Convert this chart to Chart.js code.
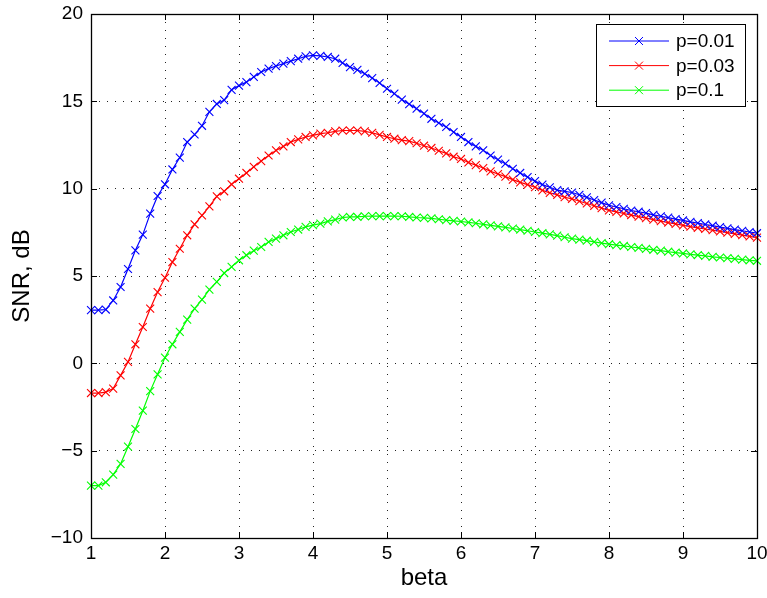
<!DOCTYPE html>
<html>
<head>
<meta charset="utf-8">
<script src="https://cdn.jsdelivr.net/npm/chart.js@4"></script>
<style>
html,body{margin:0;padding:0;background:#fff;}
#wrap{position:relative;width:767px;height:598px;}
</style>
</head>
<body>
<div id="wrap"><canvas id="c" width="767" height="598"></canvas></div>
<script>
// ---- data ----
const betaValues = [1.0,1.1,1.2,1.3,1.4,1.5,1.6,1.7,1.8,1.9,2.0,2.1,2.2,2.3,2.4,2.5,2.6,2.7,2.8,2.9,3.0,3.1,3.2,3.3,3.4,3.5,3.6,3.7,3.8,3.9,4.0,4.1,4.2,4.3,4.4,4.5,4.6,4.7,4.8,4.9,5.0,5.1,5.2,5.3,5.4,5.5,5.6,5.7,5.8,5.9,6.0,6.1,6.2,6.3,6.4,6.5,6.6,6.7,6.8,6.9,7.0,7.1,7.2,7.3,7.4,7.5,7.6,7.7,7.8,7.9,8.0,8.1,8.2,8.3,8.4,8.5,8.6,8.7,8.8,8.9,9.0,9.1,9.2,9.3,9.4,9.5,9.6,9.7,9.8,9.9,10.0];

const snrP001 = [3.05,3.05,3.08,3.6,4.37,5.4,6.47,7.37,8.57,9.58,10.25,11.1,11.78,12.67,13.1,13.6,14.4,14.85,15.07,15.66,15.9,16.1,16.4,16.68,16.87,17.02,17.16,17.3,17.44,17.57,17.63,17.6,17.54,17.44,17.2,16.96,16.8,16.58,16.33,16.05,15.72,15.44,15.1,14.84,14.58,14.3,14.0,13.76,13.53,13.24,12.96,12.67,12.42,12.2,11.9,11.66,11.43,11.14,10.9,10.66,10.43,10.23,10.08,9.92,9.85,9.78,9.65,9.5,9.35,9.2,9.05,8.95,8.85,8.75,8.68,8.6,8.5,8.42,8.34,8.26,8.18,8.1,8.03,7.95,7.88,7.8,7.73,7.66,7.59,7.52,7.45];

const snrP003 = [-1.7,-1.7,-1.65,-1.45,-0.69,0.08,1.09,2.08,3.13,4.08,4.9,5.8,6.56,7.33,7.96,8.47,8.99,9.56,9.85,10.25,10.57,10.9,11.25,11.58,11.9,12.19,12.42,12.67,12.82,12.96,13.05,13.15,13.2,13.28,13.33,13.33,13.33,13.28,13.2,13.08,12.96,12.86,12.78,12.72,12.6,12.46,12.33,12.17,12.02,11.83,11.7,11.5,11.35,11.18,10.99,10.84,10.69,10.52,10.36,10.23,10.08,9.9,9.76,9.65,9.51,9.42,9.28,9.15,9.02,8.89,8.76,8.67,8.58,8.49,8.4,8.31,8.23,8.14,8.06,7.98,7.9,7.83,7.76,7.69,7.62,7.55,7.48,7.41,7.34,7.27,7.2];

const snrP01 = [-7.0,-7.0,-6.81,-6.37,-5.76,-4.77,-3.76,-2.71,-1.59,-0.63,0.33,1.09,1.8,2.5,3.13,3.65,4.22,4.66,5.17,5.52,5.9,6.19,6.45,6.66,6.95,7.14,7.33,7.52,7.66,7.81,7.91,8.0,8.13,8.23,8.35,8.38,8.38,8.42,8.43,8.43,8.43,8.43,8.42,8.38,8.35,8.33,8.3,8.25,8.2,8.16,8.12,8.07,8.02,7.96,7.9,7.84,7.78,7.72,7.66,7.59,7.52,7.45,7.38,7.31,7.22,7.14,7.08,7.02,6.95,6.88,6.82,6.77,6.72,6.66,6.61,6.55,6.5,6.45,6.39,6.34,6.29,6.24,6.2,6.15,6.1,6.06,6.02,5.98,5.94,5.9,5.87];

const seriesLabels = ['p=0.01','p=0.03','p=0.1'];
const seriesColors = ['#0000ff','#ff0000','#00ff00'];
const xTicks = [1,2,3,4,5,6,7,8,9,10];
const yTicks = [-10,-5,0,5,10,15,20];
const xTitle = 'beta';
const yTitle = 'SNR, dB';

// ---- build ----
const FONT = '"Liberation Sans", Arial, Helvetica, sans-serif';
const seriesValues = [snrP001, snrP003, snrP01];
const datasets = seriesValues.map((vals, i) => ({
  label: seriesLabels[i],
  data: betaValues.map((b, j) => ({x: b, y: vals[j]})),
  borderColor: seriesColors[i],
  backgroundColor: seriesColors[i],
  borderWidth: 1.2,
  pointStyle: 'crossRot',
  pointRadius: 5.6,
  pointBorderWidth: 1.1,
  pointHoverRadius: 5.6,
  tension: 0,
  clip: 6
}));

const fmt = v => String(v).replace('-', '\u2212');

const framePlugin = {
  id: 'frame',
  afterDatasetsDraw(chart) {
    const {ctx, chartArea: a, scales: {x, y}} = chart;
    ctx.save();
    ctx.strokeStyle = '#000';
    ctx.lineWidth = 1;
    const tl = 6;
    ctx.beginPath();
    xTicks.forEach(v => {
      const px = Math.round(x.getPixelForValue(v)) + 0.5;
      ctx.moveTo(px, a.bottom); ctx.lineTo(px, a.bottom - tl);
      ctx.moveTo(px, a.top); ctx.lineTo(px, a.top + tl);
    });
    yTicks.forEach(v => {
      const py = Math.round(y.getPixelForValue(v)) + 0.5;
      ctx.moveTo(a.left, py); ctx.lineTo(a.left + tl, py);
      ctx.moveTo(a.right, py); ctx.lineTo(a.right - tl, py);
    });
    ctx.stroke();
    ctx.lineWidth = 1.3;
    ctx.strokeRect(Math.round(a.left) + 0.5, Math.round(a.top) + 0.5,
                   Math.round(a.right - a.left), Math.round(a.bottom - a.top));
    // legend
    const bx = Math.round(a.right) - 161, by = Math.round(a.top) + 10, bw = 149, bh = 82;
    ctx.fillStyle = '#fff';
    ctx.fillRect(bx, by, bw, bh);
    ctx.lineWidth = 1;
    ctx.strokeStyle = '#000';
    ctx.strokeRect(bx + 0.5, by + 0.5, bw, bh);
    ctx.font = '19px ' + FONT;
    ctx.textBaseline = 'middle';
    ctx.textAlign = 'left';
    chart.data.datasets.forEach((ds, i) => {
      const ry = by + 17 + i * 24.6;
      ctx.strokeStyle = ds.borderColor;
      ctx.lineWidth = 1;
      ctx.beginPath();
      ctx.moveTo(bx + 13, ry); ctx.lineTo(bx + 73, ry);
      const cx = bx + 43, r = 4;
      ctx.moveTo(cx - r, ry - r); ctx.lineTo(cx + r, ry + r);
      ctx.moveTo(cx - r, ry + r); ctx.lineTo(cx + r, ry - r);
      ctx.stroke();
      ctx.fillStyle = '#000';
      ctx.fillText(ds.label, bx + 80, ry + 1);
    });
    ctx.restore();
  }
};

const gridOpts = {color: '#222', lineWidth: 1, drawTicks: false, tickLength: 0, borderDash: [1, 7]};
const borderOpts = {display: false, dash: [1, 7]};

new Chart(document.getElementById('c'), {
  type: 'line',
  data: {datasets},
  options: {
    responsive: false,
    animation: false,
    layout: {padding: {top: 14, right: 10, left: 0, bottom: 0}},
    plugins: {legend: {display: false}, tooltip: {enabled: false}},
    scales: {
      x: {
        type: 'linear', min: 1, max: 10,
        afterBuildTicks: s => { s.ticks = xTicks.map(v => ({value: v})); },
        afterFit: s => { s.height = 60; s.paddingLeft = 0; s.paddingRight = 0; },
        grid: gridOpts,
        border: borderOpts,
        ticks: {color: '#000', font: {family: FONT, size: 19}, padding: 4, maxRotation: 0,
                callback: v => fmt(v)},
        title: {display: true, text: xTitle, color: '#000', font: {family: FONT, size: 24},
                padding: {top: 0, bottom: 5}}
      },
      y: {
        type: 'linear', min: -10, max: 20,
        afterBuildTicks: s => { s.ticks = yTicks.map(v => ({value: v})); },
        afterFit: s => { s.width = 91; s.paddingTop = 0; s.paddingBottom = 0; },
        grid: gridOpts,
        border: borderOpts,
        ticks: {color: '#000', font: {family: FONT, size: 19}, padding: 8,
                callback: v => fmt(v)},
        title: {display: true, text: yTitle, color: '#000', font: {family: FONT, size: 24},
                padding: {top: 8, bottom: 0}}
      }
    }
  },
  plugins: [framePlugin]
});
</script>
</body>
</html>
